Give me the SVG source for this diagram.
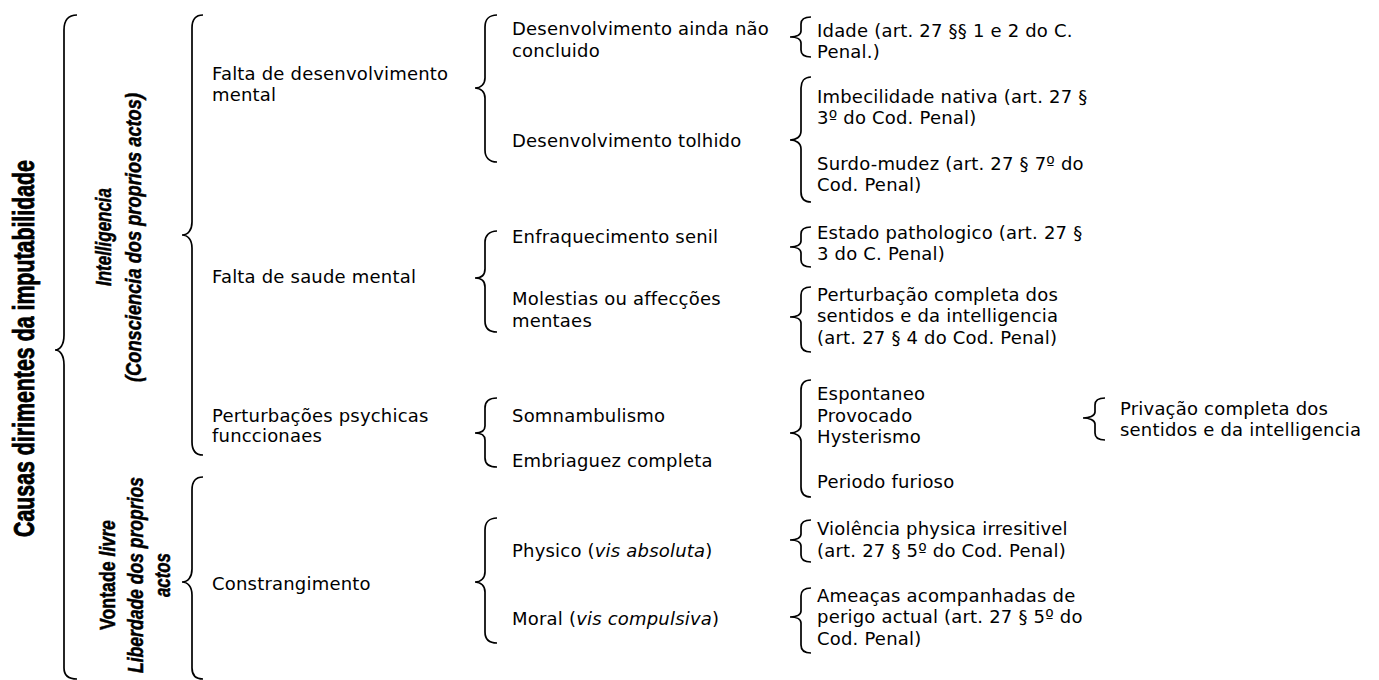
<svg xmlns="http://www.w3.org/2000/svg" width="1379" height="680" viewBox="0 0 1379 680">
<style>
.t{font-family:"DejaVu Sans",Verdana,sans-serif;font-size:18px;letter-spacing:0.2px;fill:#000}
.v{font-family:"Liberation Sans",Arial,sans-serif;font-weight:bold;fill:#000;stroke:#000;stroke-width:0.5}
.b{fill:none;stroke:#000;stroke-width:1.7}
</style>
<rect width="1379" height="680" fill="#fff"/>
<g id="connectors">
<path class="b" d="M77,15 C68,15 64,20 64,30 L64,335 C64,345 60,350 55,350 C60,350 64,355 64,365 L64,668 C64,675 68,679 77,679"/>
<path class="b" d="M203,15 C195,15 192,20 192,28 L192,222 C192,230 188,235 182,235 C188,235 192,240 192,248 L192,442 C192,450 195,455 203,455"/>
<path class="b" d="M203,477 C195,477 192,482 192,490 L192,569 C192,577 188,582 182,582 C188,582 192,587 192,595 L192,668 C192,675 195,679 203,679"/>
<path class="b" d="M497,15 C489,15 485,20 485,27 L485,78 C485,84 481,88 475,88 C481,88 485,92 485,98 L485,150 C485,157 489,162 497,162"/>
<path class="b" d="M497,231 C489,231 485,236 485,242 L485,269 C485,275 481,278 475,278 C481,278 485,281 485,287 L485,321 C485,328 489,332 497,332"/>
<path class="b" d="M497,398 C489,398 485,402 485,408 L485,426 C485,431 481,433 475,433 C481,433 485,435 485,440 L485,458 C485,464 489,467 497,467"/>
<path class="b" d="M497,518 C489,518 485,523 485,530 L485,572 C485,578 481,582 475,582 C481,582 485,586 485,592 L485,632 C485,639 489,643 497,643"/>
<path class="b" d="M811,17 C804,17 801,19 801,24 L801,31 C801,35 796,37 790,37 C796,37 801,39 801,43 L801,50 C801,55 804,57 811,57"/>
<path class="b" d="M811,77 C804,77 801,82 801,88 L801,131 C801,137 796,140 790,140 C796,140 801,143 801,149 L801,192 C801,198 804,202 811,202"/>
<path class="b" d="M811,227 C804,227 801,229 801,234 L801,241 C801,245 796,247 790,247 C796,247 801,249 801,253 L801,260 C801,265 804,267 811,267"/>
<path class="b" d="M811,287 C804,287 801,290 801,295 L801,311 C801,315 796,317 790,317 C796,317 801,319 801,323 L801,344 C801,349 804,352 811,352"/>
<path class="b" d="M811,380 C804,380 801,384 801,390 L801,425 C801,430 796,433 790,433 C796,433 801,436 801,441 L801,487 C801,493 804,497 811,497"/>
<path class="b" d="M811,520 C804,520 801,522 801,527 L801,534 C801,538 796,540 790,540 C796,540 801,542 801,546 L801,555 C801,560 804,562 811,562"/>
<path class="b" d="M811,588 C804,588 801,591 801,596 L801,611 C801,615 796,617 790,617 C796,617 801,619 801,623 L801,645 C801,650 804,653 811,653"/>
<path class="b" d="M1105,398 C1098,398 1095,400 1095,405 L1095,412 C1095,416 1089,418 1083,418 C1089,418 1095,420 1095,424 L1095,433 C1095,438 1098,440 1105,440"/>
</g>
<g id="root"><text class="v" font-size="29" style="stroke-width:0.8" transform="translate(34,348.5) rotate(-90)" text-anchor="middle" textLength="377" lengthAdjust="spacingAndGlyphs">Causas dirimentes da imputabilidade</text></g>
<g id="intelligencia">
<text class="v" font-size="22" font-style="italic" transform="translate(111,237) rotate(-90)" text-anchor="middle" textLength="98" lengthAdjust="spacingAndGlyphs">Intelligencia</text>
<text class="v" font-size="22" font-style="italic" transform="translate(141,237.5) rotate(-90)" text-anchor="middle" textLength="289" lengthAdjust="spacingAndGlyphs">(Consciencia dos proprios actos)</text>
</g>
<g id="vontade">
<text class="v" font-size="22" transform="translate(115,575) rotate(-90)" text-anchor="middle" textLength="110" lengthAdjust="spacingAndGlyphs">Vontade <tspan font-style="italic">livre</tspan></text>
<text class="v" font-size="22" font-style="italic" transform="translate(143,575) rotate(-90)" text-anchor="middle" textLength="196" lengthAdjust="spacingAndGlyphs">Liberdade dos proprios</text>
<text class="v" font-size="22" font-style="italic" transform="translate(170,575) rotate(-90)" text-anchor="middle" textLength="44" lengthAdjust="spacingAndGlyphs">actos</text>
</g>
<g id="falta-desenvolvimento"><text class="t" x="212" y="80">Falta de desenvolvimento</text><text class="t" x="212" y="101">mental</text></g>
<g id="falta-saude"><text class="t" x="212" y="283">Falta de saude mental</text></g>
<g id="perturbacoes"><text class="t" x="212" y="422">Perturbações psychicas</text><text class="t" x="212" y="442">funccionaes</text></g>
<g id="constrangimento"><text class="t" x="212" y="590">Constrangimento</text></g>
<g id="des-nao-concluido"><text class="t" x="512" y="35">Desenvolvimento ainda não</text><text class="t" x="512" y="57">concluido</text></g>
<g id="des-tolhido"><text class="t" x="512" y="147">Desenvolvimento tolhido</text></g>
<g id="enfraquecimento"><text class="t" x="512" y="243">Enfraquecimento senil</text></g>
<g id="molestias"><text class="t" x="512" y="305">Molestias ou affecções</text><text class="t" x="512" y="327">mentaes</text></g>
<g id="somnambulismo"><text class="t" x="512" y="422">Somnambulismo</text></g>
<g id="embriaguez"><text class="t" x="512" y="467">Embriaguez completa</text></g>
<g id="physico"><text class="t" x="512" y="557">Physico (<tspan font-style="italic">vis absoluta</tspan>)</text></g>
<g id="moral"><text class="t" x="512" y="625">Moral (<tspan font-style="italic">vis compulsiva</tspan>)</text></g>
<g id="idade"><text class="t" x="817" y="37">Idade (art. 27 §§ 1 e 2 do C.</text><text class="t" x="817" y="58">Penal.)</text></g>
<g id="imbecilidade"><text class="t" x="817" y="103">Imbecilidade nativa (art. 27 §</text><text class="t" x="817" y="124">3º do Cod. Penal)</text></g>
<g id="surdo-mudez"><text class="t" x="817" y="170">Surdo-mudez (art. 27 § 7º do</text><text class="t" x="817" y="191">Cod. Penal)</text></g>
<g id="estado"><text class="t" x="817" y="239">Estado pathologico (art. 27 §</text><text class="t" x="817" y="260">3 do C. Penal)</text></g>
<g id="perturbacao"><text class="t" x="817" y="301">Perturbação completa dos</text><text class="t" x="817" y="322">sentidos e da intelligencia</text><text class="t" x="817" y="344">(art. 27 § 4 do Cod. Penal)</text></g>
<g id="espontaneo"><text class="t" x="817" y="400">Espontaneo</text><text class="t" x="817" y="421.5">Provocado</text><text class="t" x="817" y="443">Hysterismo</text></g>
<g id="periodo"><text class="t" x="817" y="488">Periodo furioso</text></g>
<g id="violencia"><text class="t" x="817" y="535">Violência physica irresitivel</text><text class="t" x="817" y="557">(art. 27 § 5º do Cod. Penal)</text></g>
<g id="ameacas"><text class="t" x="817" y="602">Ameaças acompanhadas de</text><text class="t" x="817" y="623">perigo actual (art. 27 § 5º do</text><text class="t" x="817" y="645">Cod. Penal)</text></g>
<g id="privacao"><text class="t" x="1120" y="415">Privação completa dos</text><text class="t" x="1120" y="436">sentidos e da intelligencia</text></g>
</svg>
